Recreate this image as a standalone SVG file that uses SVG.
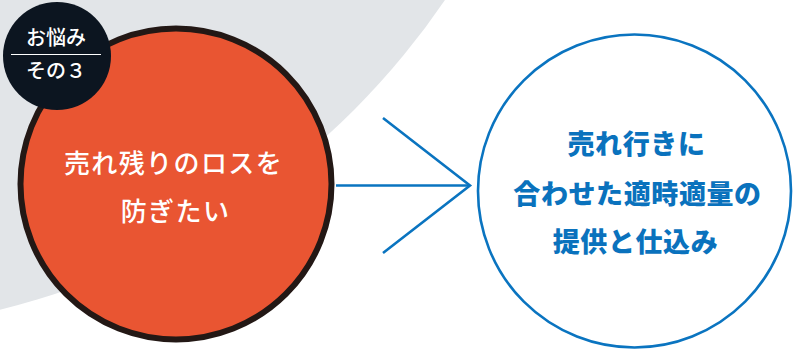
<svg xmlns="http://www.w3.org/2000/svg" width="795" height="349" viewBox="0 0 795 349">
<defs>
<style>
.jp{font-family:"Noto Sans CJK JP","Noto Sans CJK SC",sans-serif;text-anchor:middle}
.conn{fill:none;stroke:#0a74c0;stroke-width:2.6;stroke-linecap:butt;stroke-linejoin:miter}
.w{fill:#ffffff;font-weight:500}
.b{fill:#0a72bd;font-weight:900}
</style>
</defs>
<rect width="795" height="349" fill="#ffffff"/>
<circle cx="-182" cy="-426" r="758" fill="#e2e5e8"/>
<g id="connectors">
<line class="conn" x1="336" y1="185.5" x2="470" y2="185.5"/>
<polyline class="conn" points="383,118 470,185.5 383,253"/>
</g>
<g id="problem">
<circle cx="176" cy="184" r="155.5" fill="#e95532" stroke="#231815" stroke-width="6"/>
<text class="jp w" x="173.5" y="173" font-size="26" letter-spacing="1.4">売れ残りのロスを</text>
<text class="jp w" x="175.5" y="220.5" font-size="26" letter-spacing="1.4">防ぎたい</text>
</g>
<g id="badge">
<circle cx="57" cy="56" r="54" fill="#0c1520"/>
<line x1="11" y1="54.5" x2="101" y2="54.5" stroke="#ffffff" stroke-width="1.2"/>
<text class="jp w" x="56" y="45" font-size="20">お悩み</text>
<text class="jp w" x="56" y="78" font-size="20">その３</text>
</g>
<g id="solution">
<circle cx="634.5" cy="191" r="156.5" fill="#ffffff" stroke="#0a74c0" stroke-width="2.6"/>
<text class="jp b" x="636.5" y="154" font-size="27" letter-spacing="0.6">売れ行きに</text>
<text class="jp b" x="637.5" y="203.5" font-size="27" letter-spacing="0.6">合わせた適時適量の</text>
<text class="jp b" x="635.5" y="251.5" font-size="27" letter-spacing="0.6">提供と仕込み</text>
</g>
</svg>
